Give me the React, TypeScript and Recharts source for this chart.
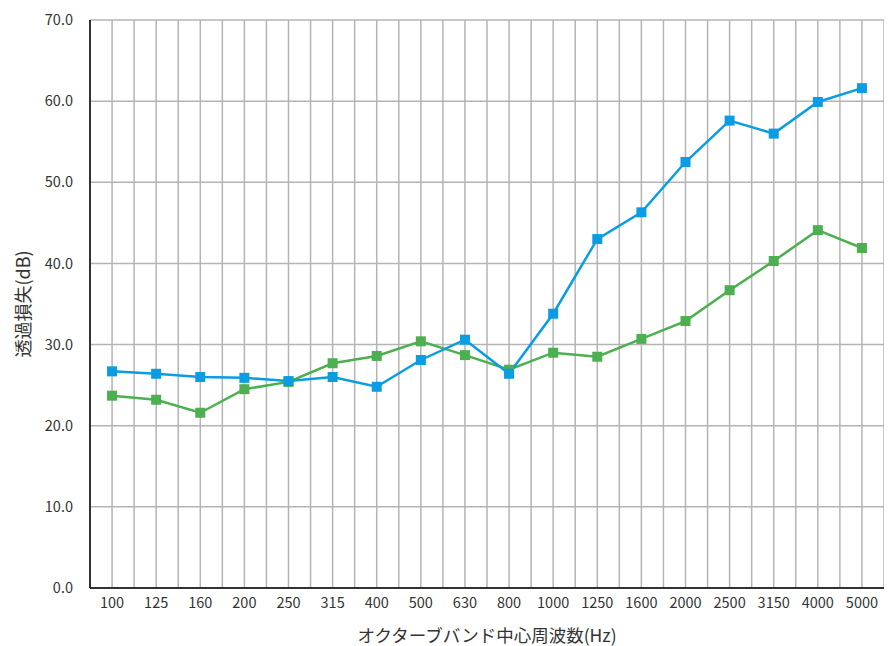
import React from "react";
import { LineChart, Line, XAxis, YAxis, CartesianGrid, Label } from "recharts";

const categories = ["100","125","160","200","250","315","400","500","630","800","1000","1250","1600","2000","2500","3150","4000","5000"];
const blueValues = [26.7,26.4,26.0,25.9,25.5,26.0,24.8,28.1,30.6,26.4,33.8,43.0,46.3,52.5,57.6,56.0,59.9,61.6];
const greenValues = [23.7,23.2,21.6,24.5,25.4,27.7,28.6,30.4,28.7,26.9,29.0,28.5,30.7,32.9,36.7,40.3,44.1,41.9];
const yTicks = [0,10,20,30,40,50,60,70];

const data = categories.map((c, i) => ({ freq: c, blue: blueValues[i], green: greenValues[i] }));

const FONT = "'Noto Sans CJK JP', 'Noto Sans', sans-serif";

const SquareDot = (color: string) => (props: any) => {
  const { cx, cy, index } = props;
  if (cx == null || cy == null) return <g key={index} />;
  return <rect key={index} x={cx - 5} y={cy - 5} width={10} height={10} fill={color} />;
};

export default function App() {
  return (
    <div style={{ width: 884, height: 638, fontFamily: FONT }}>
      <LineChart width={884} height={638} data={data} margin={{ top: 12, right: 8, left: 0, bottom: 0 }}>
        <CartesianGrid
          stroke="#b4b4b4"
          strokeWidth={1.5}
          verticalCoordinatesGenerator={(p: any) => {
            const { offset } = p;
            const n = categories.length * 2;
            const arr: number[] = [];
            for (let i = 0; i <= n; i++) arr.push(offset.left + (i * offset.width) / n);
            return arr;
          }}
        />
        <XAxis
          dataKey="freq"
          scale="band"
          height={58}
          tickLine={false}
          tickSize={0}
          tickMargin={10}
          stroke="#000"
          strokeWidth={1.5}
          tick={{ fill: "#333", fontSize: 14.5, fontFamily: FONT }}
        >
          <Label value="オクターブバンド中心周波数(Hz)" position="insideBottom" offset={4} style={{ fill: "#333", fontSize: 17.5, fontFamily: FONT }} />
        </XAxis>
        <YAxis
          width={82}
          domain={[0, 70]}
          ticks={yTicks}
          interval={0}
          tickFormatter={(v: number) => v.toFixed(1)}
          tickLine={false}
          tickSize={0}
          tickMargin={17}
          stroke="#000"
          strokeWidth={1.5}
          tick={{ fill: "#333", fontSize: 14.5, fontFamily: FONT }}
        >
          <Label value="透過損失(dB)" angle={-90} position="insideLeft" offset={16} style={{ fill: "#333", fontSize: 18, fontFamily: FONT, textAnchor: "middle" }} />
        </YAxis>
        <Line dataKey="green" stroke="#4caf50" strokeWidth={2.5} dot={SquareDot("#4caf50")} activeDot={false} isAnimationActive={false} />
        <Line dataKey="blue" stroke="#0a9de3" strokeWidth={2.5} dot={SquareDot("#0a9de3")} activeDot={false} isAnimationActive={false} />
      </LineChart>
    </div>
  );
}
